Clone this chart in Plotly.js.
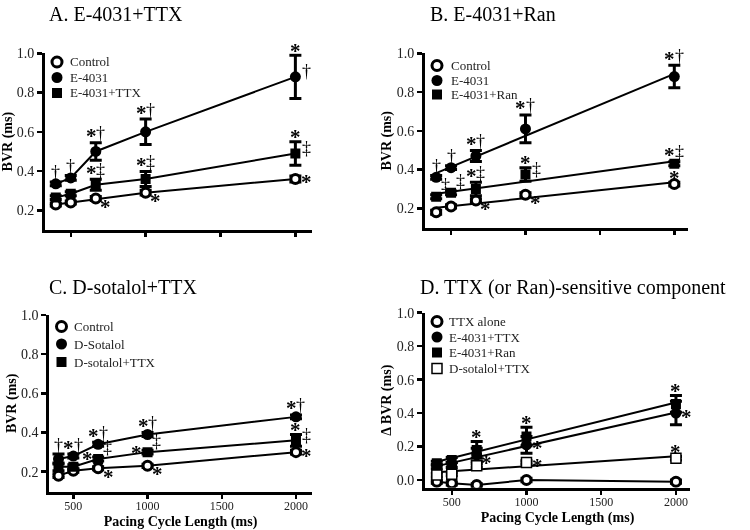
<!DOCTYPE html>
<html><head><meta charset="utf-8">
<script src="https://cdn.plot.ly/plotly-3.0.1.min.js"></script>
<style>html,body{margin:0;padding:0;background:#fff}#chart{width:750px;height:530px;will-change:transform}
#chart text{-webkit-font-smoothing:antialiased}</style>
</head><body><div id="chart"></div>
<script>
// ---------------- data ----------------
const pcl = [400, 500, 667, 1000, 2000];
const xTicks = [500, 1000, 1500, 2000];
const yTicksBVR = [0.2, 0.4, 0.6, 0.8, 1.0];
const yTicksDelta = [0.0, 0.2, 0.4, 0.6, 0.8, 1.0];

// Panel A: E-4031+TTX
const aNames = ['Control', 'E-4031', 'E-4031+TTX'];
const aControl = [0.23, 0.24, 0.26, 0.29, 0.36];
const aControlErr = [0.008, 0.008, 0.01, 0.012, 0.015];
const aE4031 = [0.335, 0.365, 0.50, 0.60, 0.88];
const aE4031Err = [0.01, 0.012, 0.045, 0.065, 0.11];
const aTTX = [0.265, 0.285, 0.33, 0.36, 0.49];
const aTTXErr = [0.01, 0.01, 0.028, 0.038, 0.06];

// Panel B: E-4031+Ran
const bNames = ['Control', 'E-4031', 'E-4031+Ran'];
const bControl = [0.18, 0.21, 0.24, 0.27, 0.325];
const bControlErr = [0.01, 0.008, 0.01, 0.01, 0.01];
const bE4031 = [0.36, 0.41, 0.47, 0.61, 0.88];
const bE4031Err = [0.01, 0.01, 0.028, 0.072, 0.058];
const bRan = [0.26, 0.28, 0.30, 0.375, 0.43];
const bRanErr = [0.01, 0.01, 0.035, 0.035, 0.01];

// Panel C: D-sotalol+TTX
const cNames = ['Control', 'D-Sotalol', 'D-sotalol+TTX'];
const cControl = [0.18, 0.205, 0.218, 0.23, 0.30];
const cControlErr = [0.01, 0.008, 0.008, 0.008, 0.01];
const cSot = [0.265, 0.28, 0.34, 0.39, 0.48];
const cSotErr = [0.025, 0.01, 0.01, 0.01, 0.01];
const cSotTTX = [0.225, 0.225, 0.265, 0.30, 0.36];
const cSotTTXErr = [0.02, 0.01, 0.01, 0.01, 0.03];

// Panel D: TTX (or Ran)-sensitive component
const dNames = ['TTX alone', 'E-4031+TTX', 'E-4031+Ran', 'D-sotalol+TTX'];
const dTTX = [-0.01, -0.02, -0.03, 0.0, -0.01];
const dTTXErr = [0.01, 0.01, 0.008, 0.01, 0.01];
const dE4031TTX = [0.08, 0.09, 0.15, 0.21, 0.40];
const dE4031TTXErr = [0.012, 0.015, 0.04, 0.05, 0.07];
const dE4031Ran = [0.10, 0.12, 0.18, 0.26, 0.455];
const dE4031RanErr = [0.012, 0.015, 0.05, 0.055, 0.05];
const dSotTTX = [0.03, 0.035, 0.085, 0.105, 0.13];
const dSotTTXErr = [0.01, 0.01, 0.01, 0.01, 0.01];

// significance marks: [series, point, text, kind]
const aMarks = [
  [1,0,'†','t'],[1,1,'†','t'],[1,2,'*†','t'],[1,3,'*†','t'],[1,4,'*','t'],[1,4,'†','r'],
  [2,2,'*‡','t'],[2,3,'*‡','t'],[2,4,'*','t'],[2,4,'‡','r'],
  [0,2,'*','br'],[0,3,'*','br'],[0,4,'*','r']
];
const bMarks = [
  [1,0,'†','t'],[1,1,'†','t'],[1,2,'*†','t'],[1,3,'*†','t'],[1,4,'*†','t'],
  [2,0,'‡','tr'],[2,1,'‡','tr'],[2,2,'*‡','t'],[2,3,'*','t'],[2,3,'‡','r'],[2,4,'*‡','t'],
  [0,2,'*','br'],[0,3,'*','br'],[0,4,'*','t']
];
const cMarks = [
  [1,0,'†','t'],[1,1,'*†','t'],[1,2,'*†','t'],[1,3,'*†','t'],[1,4,'*†','t'],
  [2,2,'*','l'],[2,2,'‡','tr'],[2,3,'*','l'],[2,3,'‡','tr'],[2,4,'*','t'],[2,4,'‡','r'],
  [0,2,'*','br'],[0,3,'*','br'],[0,4,'*','r']
];
const dMarks = [
  [2,2,'*','t'],[2,3,'*','t'],[2,4,'*','t'],
  [1,2,'*','br'],[1,3,'*','r'],[1,4,'*','r'],
  [3,3,'*','r'],[3,4,'*','t']
];

// ---------------- styles ----------------
const FONT = 'Liberation Serif, Times New Roman, serif';
const openCircle = {symbol:'circle', size:9, color:'white', line:{color:'black', width:3}};
const fillCircle = {symbol:'circle', size:11, color:'black', line:{color:'black', width:0}};
const fillSquare = {symbol:'square', size:10, color:'black', line:{color:'black', width:0}};
const openSquare = {symbol:'square', size:10, color:'white', line:{color:'black', width:1.5}};

const traces = [];
const annotations = [];
const shapes = [];

function fit(x, y) {
  const n = x.length;
  const mx = x.reduce((a,b)=>a+b,0)/n, my = y.reduce((a,b)=>a+b,0)/n;
  let sxy = 0, sxx = 0;
  for (let i=0;i<n;i++){ sxy += (x[i]-mx)*(y[i]-my); sxx += (x[i]-mx)*(x[i]-mx); }
  const s = sxy/sxx;
  const x0 = Math.min(...x), x1 = Math.max(...x);
  return {x:[x0,x1], y:[my + s*(x0-mx), my + s*(x1-mx)]};
}

// legend drawn as swatches + labels inside each panel
function legendBlock(series, mxPx, txPx, rowsPx) {
  series.forEach((s, k) => {
    const cy = rowsPx[k], m = s.marker;
    const r = m.symbol === 'circle' ? (m.line.width > 0 ? 5 : 5.5) : 5;
    const px = (x) => x / 750, py = (y) => 1 - y / 530;
    shapes.push({type: m.symbol === 'circle' ? 'circle' : 'rect', xref: 'paper', yref: 'paper',
      x0: px(mxPx - r), x1: px(mxPx + r), y0: py(cy + r), y1: py(cy - r),
      fillcolor: m.color, line: {color: 'black', width: m.line.width}});
    annotations.push({text: s.name, xref: 'paper', yref: 'paper', x: px(txPx), y: py(cy),
      xanchor: 'left', yanchor: 'middle', showarrow: false,
      font: {family: FONT, size: 13, color: '#222'}});
  });
}

// glyph-centre offsets (px) of each mark group relative to its anchor
const KIND = {
  t:  {gx: 0,   gy: 8,  top: true},
  r:  {gx: 11,  gy: 0},
  br: {gx: 10,  gy: -5},
  l:  {gx: -11, gy: 3},
  tr: {gx: 9,   gy: 10}
};
const CHW = {'*': 10, '†': 9, '‡': 9};

function panel(ax, series, marks) {
  const xa = 'x' + ax, ya = 'y' + ax;
  series.forEach(s => {
    const ln = s.fit ? fit(pcl, s.y) : {x: pcl, y: s.y};
    traces.push({x: ln.x, y: ln.y, xaxis: xa, yaxis: ya, mode: 'lines',
      line: {color: 'black', width: 2}, showlegend: false, hoverinfo: 'skip'});
  });
  series.forEach(s => {
    traces.push({x: pcl, y: s.y, xaxis: xa, yaxis: ya, mode: 'markers', name: s.name,
      showlegend: false, marker: s.marker,
      error_y: {type: 'data', array: s.err, color: 'black', thickness: 3, width: 6}});
  });
  marks.forEach(m => {
    const s = series[m[0]], i = m[1], chars = m[2].split(''), k = KIND[m[3]];
    const y = k.top ? s.y[i] + s.err[i] : s.y[i];
    let gy = k.gy;
    if (m[3] === 'r' && chars[0] !== '*') gy += 4;
    const total = chars.reduce((a, c) => a + CHW[c], 0);
    let cx = k.gx - total / 2;
    chars.forEach(c => {
      const w = CHW[c];
      const isStar = c === '*';
      annotations.push({x: pcl[i], y: y, xref: xa, yref: ya, text: isStar ? '<b>*</b>' : c,
        showarrow: false, opacity: 0.99,
        xanchor: 'center', yanchor: 'middle',
        xshift: cx + w / 2, yshift: isStar ? gy - 3.5 + (chars.length > 1 ? 2 : 0) : gy + 1.5,
        font: {family: FONT, size: isStar ? 21 : 18, color: 'black'}});
      cx += w;
    });
  });
  return series;
}

const sA = panel('', [
  {name: aNames[0], y: aControl, err: aControlErr, marker: openCircle},
  {name: aNames[1], y: aE4031, err: aE4031Err, marker: fillCircle},
  {name: aNames[2], y: aTTX, err: aTTXErr, marker: fillSquare}
], aMarks);
const sB = panel('2', [
  {name: bNames[0], y: bControl, err: bControlErr, marker: openCircle, fit: true},
  {name: bNames[1], y: bE4031, err: bE4031Err, marker: fillCircle, fit: true},
  {name: bNames[2], y: bRan, err: bRanErr, marker: fillSquare, fit: true}
], bMarks);
const sC = panel('3', [
  {name: cNames[0], y: cControl, err: cControlErr, marker: openCircle},
  {name: cNames[1], y: cSot, err: cSotErr, marker: fillCircle},
  {name: cNames[2], y: cSotTTX, err: cSotTTXErr, marker: fillSquare}
], cMarks);
const sD = panel('4', [
  {name: dNames[0], y: dTTX, err: dTTXErr, marker: openCircle},
  {name: dNames[1], y: dE4031TTX, err: dE4031TTXErr, marker: fillCircle, fit: true},
  {name: dNames[2], y: dE4031Ran, err: dE4031RanErr, marker: fillSquare, fit: true},
  {name: dNames[3], y: dSotTTX, err: dSotTTXErr, marker: openSquare, fit: true}
], dMarks);

legendBlock(sA, 57, 68, [62, 77.5, 93]);
legendBlock(sB, 437, 449, [65.5, 80.5, 94.5]);
legendBlock(sC, 61.5, 72, [326.5, 344, 362]);
legendBlock(sD, 437, 447, [321.5, 337, 352.5, 368.5]);

// titles
const titles = [
  ['A. E-4031+TTX', 47, 14],
  ['B. E-4031+Ran', 428, 14],
  ['C. D-sotalol+TTX', 47, 287],
  ['D. TTX (or Ran)-sensitive component', 418, 287]
];
titles.forEach(t => annotations.push({text: t[0], xref: 'paper', yref: 'paper',
  x: t[1]/750, y: 1 - t[2]/530, xanchor: 'left', yanchor: 'middle', showarrow: false,
  font: {family: FONT, size: 20, color: 'black'}}));

function xax(domPx, range, anchor, labels) {
  return {domain: [domPx[0]/750, domPx[1]/750], range: range, anchor: anchor,
    showline: true, linecolor: 'black', linewidth: 3, ticks: 'outside', ticklen: 4,
    tickwidth: 2.5, tickcolor: 'black', tickvals: xTicks, showticklabels: labels,
    showgrid: false, zeroline: false, fixedrange: true, ticklabelstandoff: -3,
    tickfont: {family: FONT, size: 12, color: '#222'},
    title: labels ? {text: '<b>Pacing Cycle Length (ms)</b>', standoff: 5,
      font: {family: FONT, size: 14, color: 'black'}} : {text: ''}};
}
function yax(domPx, range, anchor, ticks, title) {
  return {domain: [1 - domPx[1]/530, 1 - domPx[0]/530], range: range, anchor: anchor,
    showline: true, linecolor: 'black', linewidth: 3, ticks: 'outside', ticklen: 5,
    tickwidth: 2.5, tickcolor: 'black', tickvals: ticks, tickformat: '.1f',
    showgrid: false, zeroline: false, fixedrange: true,
    tickfont: {family: FONT, size: 14, color: '#222'},
    title: {text: '<b>' + title + '</b>', standoff: 2, font: {family: FONT, size: 14, color: 'black'}}};
}

const layout = {
  width: 750, height: 530, margin: {l: 0, r: 0, t: 0, b: 0},
  paper_bgcolor: 'white', plot_bgcolor: 'white', showlegend: false,
  xaxis: xax([45, 311.7], [328, 2109], 'y', false),
  yaxis: yax([53.3, 230], [0.1, 1.0], 'x', yTicksBVR, 'BVR (ms)'),
  xaxis2: xax([425, 688.3], [325, 2094], 'y2', false),
  yaxis2: yax([53.3, 228.3], [0.097, 1.0], 'x2', yTicksBVR, 'BVR (ms)'),
  xaxis3: xax([49.3, 311.7], [338, 2106], 'y3', true),
  yaxis3: yax([315, 491.7], [0.098, 1.0], 'x3', yTicksBVR, 'BVR (ms)'),
  xaxis4: xax([425, 690], [321, 2094], 'y4', true),
  yaxis4: yax([312.7, 487.7], [-0.046, 1.0], 'x4', yTicksDelta, 'Δ BVR (ms)'),
  shapes: shapes,
  annotations: annotations
};

Plotly.newPlot('chart', traces, layout, {staticPlot: true, displayModeBar: false});
</script>
</body></html>
